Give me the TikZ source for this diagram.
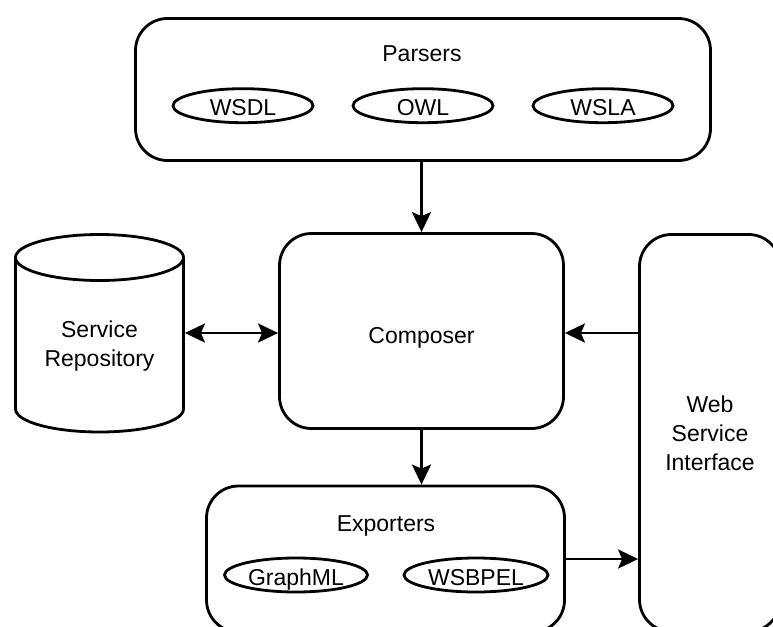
\documentclass[tikz,border=0pt]{standalone}
\usepackage{fontspec}
\setmainfont{Liberation Sans}
\usetikzlibrary{arrows.meta,shapes.geometric}
\begin{document}
\begin{tikzpicture}[x=1pt,y=1pt,
  line width=2.8pt,
  font=\fontsize{23}{29}\selectfont,
  boxst/.style={draw, rounded corners=32pt, inner sep=0pt},
  ovalst/.style={draw, ellipse, inner sep=0pt, minimum height=34pt, text height=20pt, text depth=0pt},
  lblst/.style={inner sep=0pt, anchor=base},
  tipst/.tip={Stealth[length=20pt,width=19pt,inset=4pt]},
  connst/.style={-tipst},
]
\useasboundingbox (0,0) rectangle (773,-626);
\clip (0,0) rectangle (773,-626);

% Parsers
\node[boxst, minimum width=575pt, minimum height=142pt] (parsers) at (423,-89.5) {};
\node[lblst] (parserslbl) at (422,-62) {Parsers};
\node[ovalst, minimum width=140pt] (wsdl) at (243,-105.7) {WSDL};
\node[ovalst, minimum width=140pt] (owl) at (423,-105.7) {OWL};
\node[ovalst, minimum width=140pt] (wsla) at (603,-105.7) {WSLA};

% Composer
\node[boxst, minimum width=284pt, minimum height=195pt] (composer) at (421.5,-331) {};
\node[lblst] (composerlbl) at (421.5,-343) {Composer};

% Service repository (cylinder)
\draw (15.5,-257.5) -- (15.5,-409) arc[start angle=180,end angle=360,x radius=84,y radius=23] -- (183.5,-257.5);
\draw (99.5,-257.5) ellipse [x radius=84, y radius=23];
\node[inner sep=0pt, minimum width=168pt, minimum height=200pt] (repo) at (99.5,-333) {};
\node[inner sep=0pt, align=center] (repolbl) at (99.5,-345.8) {Service\\Repository};

% Web Service Interface
\node[boxst, minimum width=141pt, minimum height=397pt, align=center] (wsi) at (710,-433) {Web\\Service\\Interface};

% Exporters
\node[boxst, minimum width=358pt, minimum height=146pt] (exporters) at (385.5,-559) {};
\node[lblst] (exporterslbl) at (386,-531) {Exporters};
\node[ovalst, minimum width=143pt] (graphml) at (296,-575) {GraphML};
\node[ovalst, minimum width=144pt] (wsbpel) at (476,-575) {WSBPEL};

% Connectors
\draw[connst] (parsers.south -| composer.north) -- (composer.north);
\draw[connst] (composer.south) -- (composer.south |- exporters.north);
\draw[tipst-tipst] (repo.east) -- (repo.east -| composer.west);
\draw[connst] (wsi.west |- repo.east) -- (composer.east |- repo.east);
\draw[connst] (exporters.east) -- (exporters.east -| wsi.west);
\end{tikzpicture}
\end{document}
